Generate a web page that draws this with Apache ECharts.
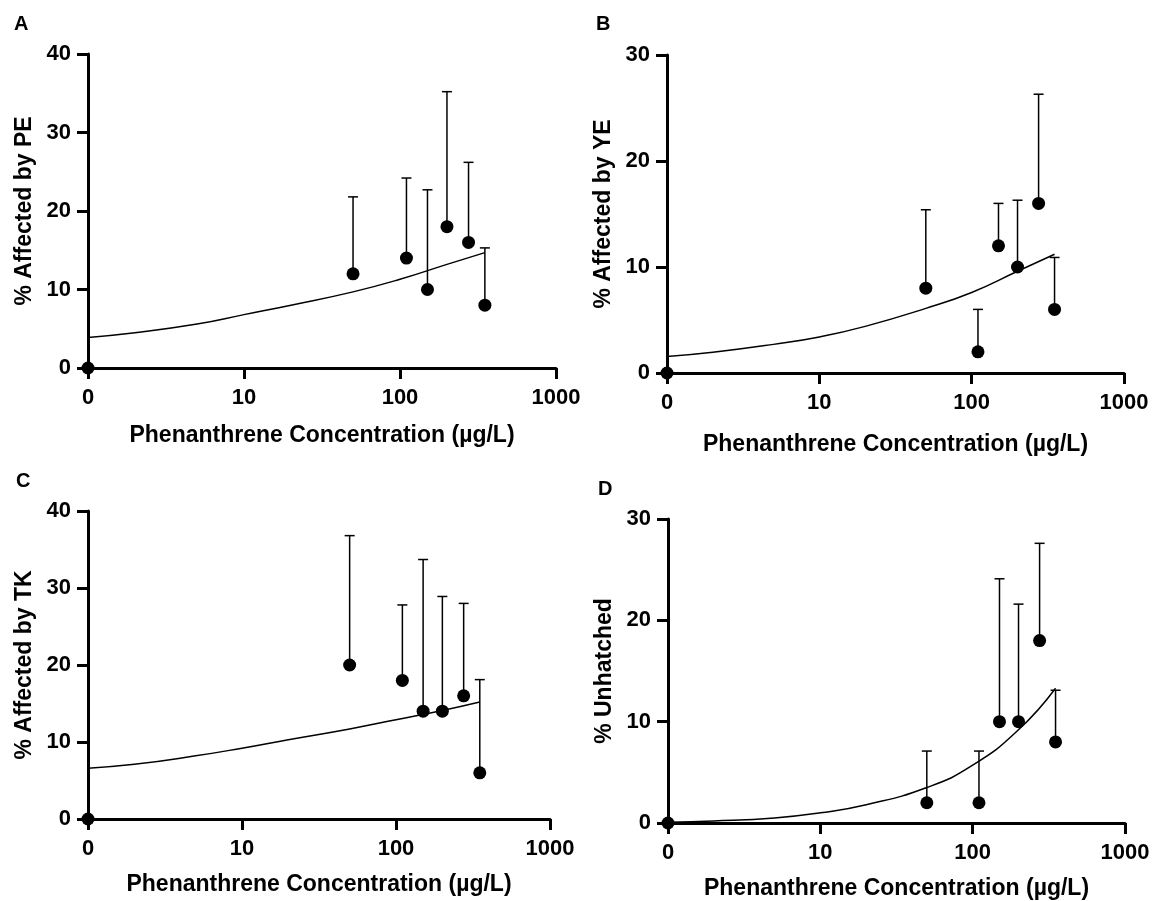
<!DOCTYPE html>
<html>
<head>
<meta charset="utf-8">
<script src="https://cdn.jsdelivr.net/npm/echarts@6/dist/echarts.min.js"></script>
<style>
  html, body {margin: 0; padding: 0; background: #fff;}
  #main {width: 1153px; height: 901px;}
</style>
</head>
<body>
<div id="main"></div>
<script>
// concentrations (µg/L); 0 sits at the axis origin (1 on the log axis)
const concentration = [0, 50, 110, 150, 200, 275, 350];
const xTicks = [1, 10, 100, 1000];

const peMean = [0, 12, 14, 10, 18, 16, 8];
const peUpper = [null, 21.8, 24.2, 22.7, 35.2, 26.2, 15.3];
const yeMean = [0, 8, 2, 12, 10, 16, 6];
const yeUpper = [null, 15.4, 6.0, 16.0, 16.3, 26.3, 10.9];
const tkMean = [0, 20, 18, 14, 14, 16, 6];
const tkUpper = [null, 36.8, 27.8, 33.7, 28.9, 28.0, 18.1];
const unMean = [0, 2, 2, 10, 10, 18, 8];
const unUpper = [null, 7.1, 7.1, 24.1, 21.6, 27.6, 13.1];

// fitted curves
const fitX = [0, 2, 5, 10, 20, 50, 100, 200, 350];
const peFit = [3.9, 4.5, 5.6, 6.8, 8.0, 9.7, 11.3, 13.2, 14.7];
const yeFit = [1.55, 1.95, 2.7, 3.4, 4.4, 6.1, 7.6, 9.6, 11.2];
const tkFit = [6.6, 7.1, 8.2, 9.2, 10.3, 11.7, 12.9, 14.1, 15.2];
const unFit = [0.08, 0.2, 0.5, 1.0, 1.8, 3.5, 5.7, 9.2, 13.3];

const FONT = "'Liberation Sans', Arial, sans-serif";

const panels = [
  {label: 'A', name: '% Affected by PE', mean: peMean, upper: peUpper, fit: peFit, yMax: 40,
    grid: {left: 88, top: 54, width: 468, height: 314}, labelPos: [14, 14], xGap: 56},
  {label: 'B', name: '% Affected by YE', mean: yeMean, upper: yeUpper, fit: yeFit, yMax: 30,
    grid: {left: 667, top: 55, width: 457, height: 318}, labelPos: [596, 14], xGap: 60},
  {label: 'C', name: '% Affected by TK', mean: tkMean, upper: tkUpper, fit: tkFit, yMax: 40,
    grid: {left: 88, top: 511, width: 462, height: 308}, labelPos: [16, 471], xGap: 54},
  {label: 'D', name: '% Unhatched', mean: unMean, upper: unUpper, fit: unFit, yMax: 30,
    grid: {left: 668, top: 519, width: 457, height: 304}, labelPos: [598, 479], xGap: 54},
];

function toAxis(c) {
  return c === 0 ? 1 : c;
}

const grids = [], xAxes = [], yAxes = [], series = [], titles = [];

panels.forEach((p, i) => {
  grids.push(p.grid);
  titles.push({
    text: p.label, left: p.labelPos[0], top: p.labelPos[1], padding: 0,
    textStyle: {fontFamily: FONT, fontSize: 20, fontWeight: 'bold', color: '#000'}
  });
  xAxes.push({
    type: 'log', logBase: 10, min: xTicks[0], max: xTicks[xTicks.length - 1], gridIndex: i,
    name: 'Phenanthrene Concentration (µg/L)', nameLocation: 'middle', nameGap: p.xGap,
    nameTextStyle: {fontFamily: FONT, fontSize: 23, fontWeight: 'bold', color: '#000'},
    axisLine: {lineStyle: {color: '#000', width: 3}},
    axisTick: {length: 11, lineStyle: {color: '#000', width: 3}},
    axisLabel: {
      margin: 19, fontFamily: FONT, fontSize: 22, fontWeight: 'bold', color: '#000',
      formatter: (v) => v === 1 ? '0' : String(v)
    },
    splitLine: {show: false}, minorTick: {show: false}
  });
  yAxes.push({
    type: 'value', min: 0, max: p.yMax, interval: 10, gridIndex: i,
    name: p.name, nameLocation: 'middle', nameGap: 52,
    nameTextStyle: {fontFamily: FONT, fontSize: 23, fontWeight: 'bold', color: '#000'},
    axisLine: {show: true, lineStyle: {color: '#000', width: 3}},
    axisTick: {show: true, length: 11, lineStyle: {color: '#000', width: 3}},
    axisLabel: {margin: 17, fontFamily: FONT, fontSize: 22, fontWeight: 'bold', color: '#000'},
    splitLine: {show: false}
  });

  const errData = [];
  concentration.forEach((c, k) => {
    if (p.upper[k] !== null) errData.push([toAxis(c), p.mean[k], p.upper[k]]);
  });

  series.push({
    type: 'custom', xAxisIndex: i, yAxisIndex: i, data: errData, z: 3,
    renderItem: function (params, api) {
      const base = api.coord([api.value(0), api.value(1)]);
      const top = api.coord([api.value(0), api.value(2)]);
      const half = 5;
      return {
        type: 'group',
        children: [
          {type: 'line', shape: {x1: base[0], y1: base[1], x2: top[0], y2: top[1]},
            style: {stroke: '#000', lineWidth: 1.5}},
          {type: 'line', shape: {x1: top[0] - half, y1: top[1], x2: top[0] + half, y2: top[1]},
            style: {stroke: '#000', lineWidth: 1.5}}
        ]
      };
    }
  });
  series.push({
    type: 'line', xAxisIndex: i, yAxisIndex: i, z: 2,
    data: fitX.map((x, k) => [toAxis(x), p.fit[k]]),
    smooth: 0.5, symbol: 'none',
    lineStyle: {color: '#000', width: 1.5}
  });
  series.push({
    type: 'scatter', xAxisIndex: i, yAxisIndex: i, z: 4, clip: false,
    data: concentration.map((c, k) => [toAxis(c), p.mean[k]]),
    symbol: 'circle', symbolSize: 13,
    itemStyle: {color: '#000', opacity: 1}
  });
});

const chart = echarts.init(document.getElementById('main'));
chart.setOption({
  animation: false,
  backgroundColor: '#fff',
  title: titles,
  grid: grids,
  xAxis: xAxes,
  yAxis: yAxes,
  series: series
});
</script>
</body>
</html>
